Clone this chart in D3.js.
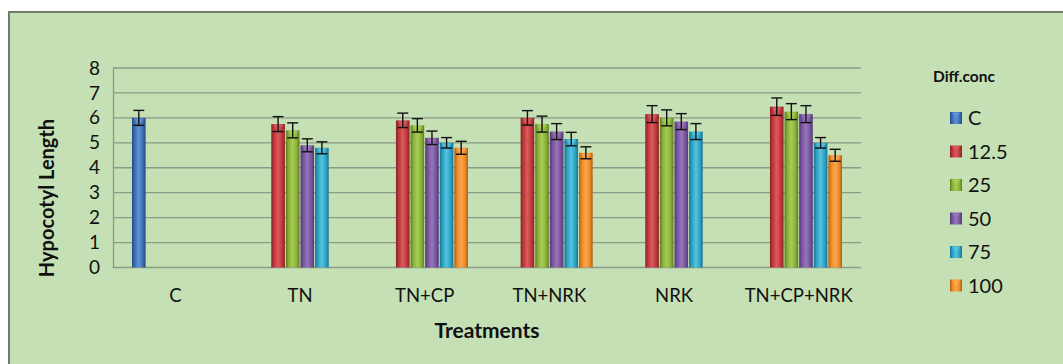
<!DOCTYPE html>
<html><head><meta charset="utf-8">
<script src="https://cdn.jsdelivr.net/npm/d3@7"></script>
<style>
html,body{margin:0;padding:0;background:#fff;}
svg{display:block;font-family:Lato,"Open Sans",sans-serif;}
</style></head>
<body><svg id="c" width="1063" height="364"></svg>
<script>
const categories = ["C","TN","TN+CP","TN+NRK","NRK","TN+CP+NRK"];
const seriesNames = ["C","12.5","25","50","75","100"];
// values per series, aligned with categories (null = no bar)
const valC    = [6.0, null, null, null, null, null];
const val125  = [null, 5.75, 5.9, 6.0, 6.15, 6.45];
const val25   = [null, 5.5, 5.7, 5.75, 6.0, 6.25];
const val50   = [null, 4.9, 5.2, 5.45, 5.85, 6.15];
const val75   = [null, 4.8, 5.0, 5.15, 5.45, 5.0];
const val100  = [null, null, 4.8, 4.6, null, 4.5];
const errC    = [0.3, null, null, null, null, null];
const err125  = [null, 0.3, 0.29, 0.29, 0.34, 0.35];
const err25   = [null, 0.3, 0.27, 0.32, 0.32, 0.32];
const err50   = [null, 0.26, 0.27, 0.32, 0.32, 0.34];
const err75   = [null, 0.24, 0.21, 0.27, 0.32, 0.21];
const err100  = [null, null, 0.26, 0.24, null, 0.24];
const yTicks  = [0,1,2,3,4,5,6,7,8];

const seriesVals = [valC, val125, val25, val50, val75, val100];
const seriesErrs = [errC, err125, err25, err50, err75, err100];
const colors = [
  {base:"#3f70b6", light:"#6393d6", dark:"#264a80"},
  {base:"#c0393c", light:"#dc5a5e", dark:"#8a2225"},
  {base:"#8bb33a", light:"#a8cb55", dark:"#5e7d20"},
  {base:"#7a55a0", light:"#9675bb", dark:"#523874"},
  {base:"#2ea4c6", light:"#55c3df", dark:"#1a7290"},
  {base:"#f08a26", light:"#f9a851", dark:"#b35e0f"}
];

const svg = d3.select("#c");
const defs = svg.append("defs");
colors.forEach((c,i)=>{
  const g = defs.append("linearGradient").attr("id","g"+i).attr("x1","0").attr("x2","1").attr("y1","0").attr("y2","0");
  g.append("stop").attr("offset","0%").attr("stop-color",c.dark);
  g.append("stop").attr("offset","22%").attr("stop-color",c.base);
  g.append("stop").attr("offset","50%").attr("stop-color",c.light);
  g.append("stop").attr("offset","78%").attr("stop-color",c.base);
  g.append("stop").attr("offset","100%").attr("stop-color",c.dark);
});

// panel
svg.append("rect").attr("x",8).attr("y",11).attr("width",1063).attr("height",364)
  .attr("fill","#c5e0b4");
svg.append("path").attr("d","M9,364 V12 H1063").attr("fill","none").attr("stroke","#6f7d6c").attr("stroke-width",2);

const plot = {l:113, r:861, t:68, b:267.5};
const x0 = d3.scaleBand().domain(categories).range([plot.l, plot.r]).paddingInner(0.297).paddingOuter(0.1485);
const x1 = d3.scaleBand().domain(seriesNames).range([0, x0.bandwidth()]);
const y = d3.scaleLinear().domain([0,8]).range([plot.b, plot.t]);

// gridlines
const grid = svg.append("g");
grid.selectAll("line").data(yTicks.filter(d=>d>0)).join("line")
  .attr("x1",plot.l).attr("x2",plot.r).attr("y1",d=>y(d)).attr("y2",d=>y(d))
  .attr("stroke","#8c9a88").attr("stroke-width",1.3);

// y axis
const yAxis = svg.append("g").attr("transform",`translate(${plot.l},0)`)
  .call(d3.axisLeft(y).tickValues(yTicks).tickSize(0).tickPadding(13));
yAxis.select(".domain").attr("stroke","#8c9a88").attr("stroke-width",1.3);
yAxis.selectAll("text").attr("font-size",19).attr("fill","#111").attr("font-family","Lato,sans-serif");

// x axis baseline
svg.append("line").attr("x1",plot.l).attr("x2",plot.r).attr("y1",y(0)).attr("y2",y(0))
  .attr("stroke","#8c9a88").attr("stroke-width",1.3);
const xAxis = svg.append("g").attr("transform",`translate(0,${y(0)})`)
  .call(d3.axisBottom(x0).tickSize(0).tickPadding(21));
xAxis.select(".domain").remove();
xAxis.selectAll("text").attr("font-size",18.5).attr("fill","#111").attr("font-family","Lato,sans-serif");

// bars
const barData = [];
seriesVals.forEach((vals,si)=>{
  vals.forEach((v,ci)=>{
    if(v!=null) barData.push({s:si, c:categories[ci], v, e:seriesErrs[si][ci]});
  });
});
const bars = svg.append("g");
bars.selectAll("rect").data(barData).join("rect")
  .attr("x",d=>x0(d.c)+x1(seriesNames[d.s])+0.5)
  .attr("width",x1.bandwidth()-1)
  .attr("y",d=>y(d.v))
  .attr("height",d=>y(0)-y(d.v))
  .attr("fill",d=>`url(#g${d.s})`);
// top bevel triangles
bars.selectAll("path.bev").data(barData).join("path").attr("class","bev")
  .attr("d",d=>{
    const bx = x0(d.c)+x1(seriesNames[d.s])+0.5, w = x1.bandwidth()-1, ty = y(d.v);
    return `M${bx+2},${ty+1} L${bx+w-2},${ty+1} L${bx+w/2},${ty+7} Z`;
  })
  .attr("fill",d=>colors[d.s].light).attr("opacity",0.85);

// error bars
const eb = svg.append("g").attr("stroke","#111").attr("stroke-width",1.4);
barData.forEach(d=>{
  const cx = x0(d.c)+x1(seriesNames[d.s])+x1.bandwidth()/2;
  const hi = y(d.v+d.e), lo = y(d.v-d.e);
  eb.append("line").attr("x1",cx).attr("x2",cx).attr("y1",hi).attr("y2",lo);
  eb.append("line").attr("x1",cx-5.5).attr("x2",cx+5.5).attr("y1",hi).attr("y2",hi);
  eb.append("line").attr("x1",cx-5.5).attr("x2",cx+5.5).attr("y1",lo).attr("y2",lo);
});

// axis titles
svg.append("text").attr("x",487).attr("y",338)
  .attr("text-anchor","middle").attr("font-size",21).attr("font-weight","bold").attr("fill","#111")
  .text("Treatments");
svg.append("text").attr("transform",`translate(54,198) rotate(-90)`)
  .attr("text-anchor","middle").attr("font-size",20).attr("font-weight","bold").attr("fill","#111")
  .text("Hypocotyl Length");

// legend
const lg = svg.append("g");
lg.append("text").attr("x",933).attr("y",82).attr("font-size",15.5).attr("font-weight","bold").attr("fill","#111").text("Diff.conc");
const items = lg.selectAll("g.it").data(seriesNames).join("g").attr("class","it")
  .attr("transform",(d,i)=>`translate(950,${118+i*33.5})`);
items.append("rect").attr("x",0).attr("y",-6).attr("width",12).attr("height",12)
  .attr("fill",(d,i)=>`url(#g${i})`);
items.append("path").attr("d","M2,-5 L10,-5 L6,0 Z").attr("fill",(d,i)=>colors[i].light);
items.append("text").attr("x",18).attr("y",7).attr("font-size",20).attr("fill","#111").text(d=>d);
</script></body></html>
